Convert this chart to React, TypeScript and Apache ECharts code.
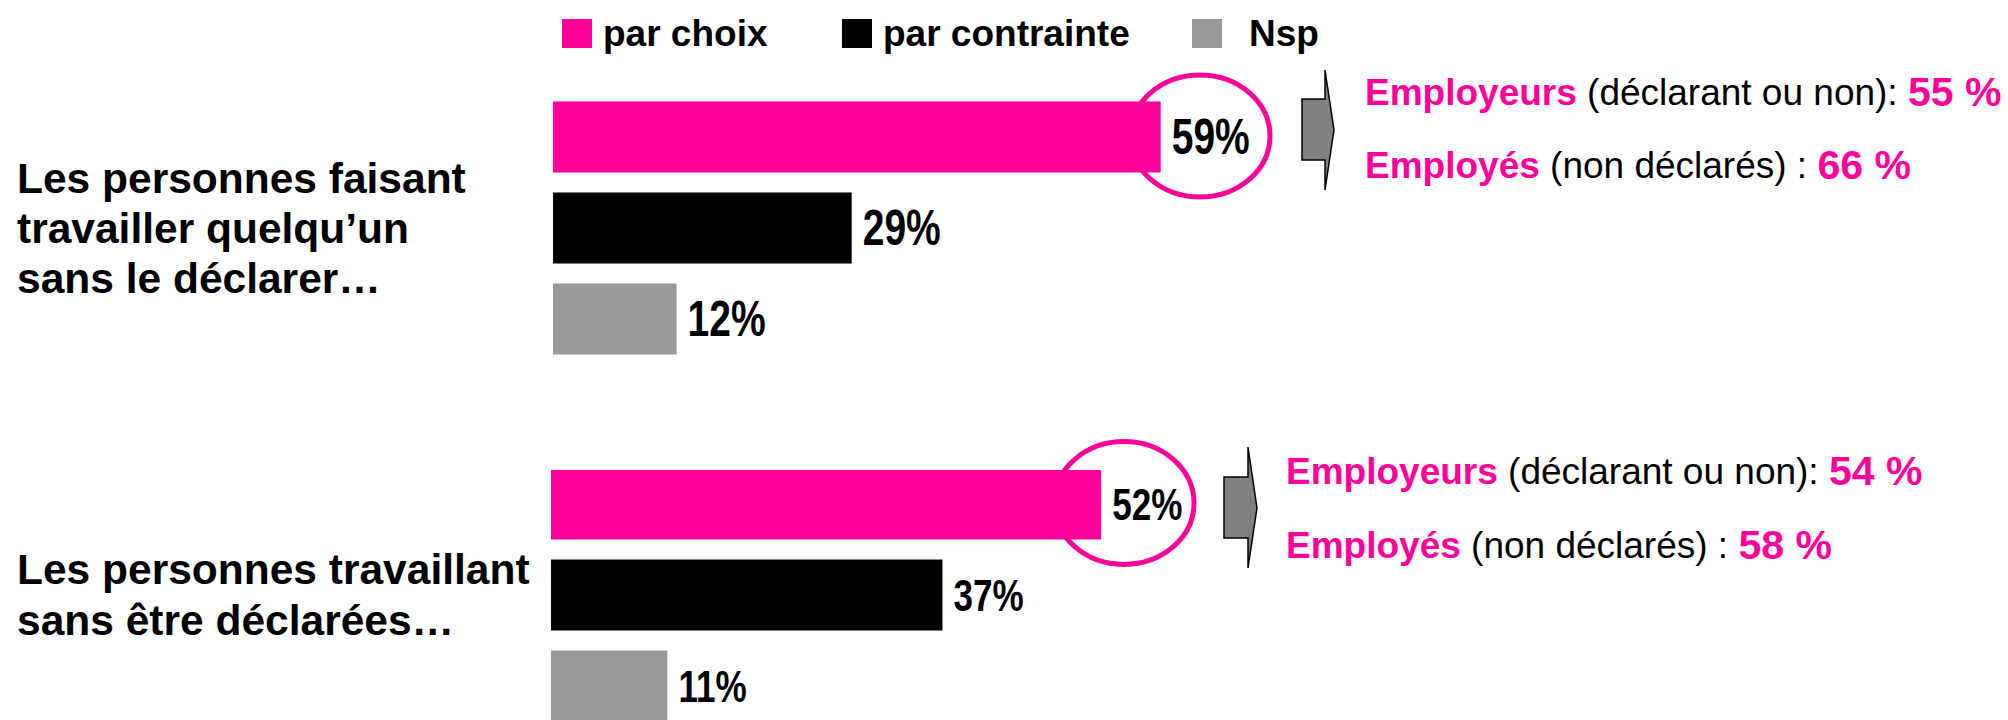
import React, { useEffect, useRef } from "react";
import * as echarts from "echarts";

const seriesNames = ["par choix", "par contrainte", "Nsp"];
const seriesColors = ["#FF0099", "#000000", "#999999"];
const categoriesTop = ["Les personnes faisant\ntravailler quelqu’un\nsans le déclarer…"];
const categoriesBottom = ["Les personnes travaillant\nsans être déclarées…"];
const valuesTop = [59, 29, 12];
const valuesBottom = [52, 37, 11];
const employeursPct = [55, 54];
const employesPct = [66, 58];

const SANS = "'Liberation Sans', Arial, Helvetica, sans-serif";
const PINK = "#FF0099";
const BAR_W = 71;
const BAR_GAP = 20;

export default function App() {
  const ref = useRef<HTMLDivElement>(null);
  useEffect(() => {
    if (!ref.current) return;
    document.body.style.margin = "0";
    const chart = echarts.init(ref.current, null, { renderer: "svg" });

    const groups = [
      { cats: categoriesTop, vals: valuesTop, labelSize: 50, scaleX: 0.78, padBottom: 49, lh: 50, margin: 536 },
      { cats: categoriesBottom, vals: valuesBottom, labelSize: 45, scaleX: 0.78, padBottom: 20, lh: 51, margin: 534 },
    ];

    const series: any[] = [];
    groups.forEach((g, gi) => {
      seriesNames.forEach((name, i) => {
        series.push({
          type: "bar",
          name,
          xAxisIndex: gi,
          yAxisIndex: gi,
          data: [g.vals[i]],
          barWidth: BAR_W,
          barGap: ((BAR_GAP / BAR_W) * 100).toFixed(1) + "%",
          itemStyle: { color: seriesColors[i] },
          z: 3,
        });
      });
      // value labels, drawn condensed (narrow bold) next to each bar end
      series.push({
        type: "custom",
        name: "labels" + gi,
        xAxisIndex: gi,
        yAxisIndex: gi,
        data: g.vals.map((v) => [v, 0]),
        z: 5,
        silent: true,
        renderItem: (params: any, api: any) => {
          const v = api.value(0);
          const p = api.coord([v, 0]);
          const idx = params.dataIndex;
          const y = p[1] + (idx - 1) * (BAR_W + BAR_GAP);
          return {
            type: "text",
            x: p[0] + 11,
            y,
            scaleX: g.scaleX,
            style: {
              text: v + "%",
              fontFamily: SANS,
              fontWeight: "bold",
              fontSize: g.labelSize,
              fill: "#000",
              verticalAlign: "middle",
              align: "left",
            },
          };
        },
      });
    });

    const legendLefts = [562, 842, 1192];
    const legendPads = [6, 6, 22];
    const legend = seriesNames.map((name, i) => ({
      data: [name],
      left: legendLefts[i],
      top: 15,
      padding: 0,
      icon: "rect",
      itemWidth: 30,
      itemHeight: 29,
      selectedMode: false,
      textStyle: {
        fontFamily: SANS,
        fontWeight: "bold",
        fontSize: 37,
        color: "#000",
        padding: [i === 2 ? 6 : 0, 0, 0, legendPads[i]],
      },
    }));

    const rich = {
      b: { fontFamily: SANS, fontWeight: "bold", fontSize: 37, fill: PINK },
      n: { fontFamily: SANS, fontSize: 37, fill: "#000" },
      p: { fontFamily: SANS, fontWeight: "bold", fontSize: 41, fill: PINK },
    };

    const annot = (x: number, y1: number, y2: number, k: number) => [
      {
        type: "text",
        x,
        y: y1,
        z: 10,
        style: {
          text: `{b|Employeurs}{n| (déclarant ou non): }{p|${employeursPct[k]} %}`,
          verticalAlign: "middle",
          rich,
        },
      },
      {
        type: "text",
        x,
        y: y2,
        z: 10,
        style: {
          text: `{b|Employés}{n| (non déclarés) : }{p|${employesPct[k]} %}`,
          verticalAlign: "middle",
          rich,
        },
      },
    ];

    const arrow = (x0: number, x1: number, x2: number, yTop: number, yBodyTop: number, yBodyBot: number, yBot: number, yMid: number) => ({
      type: "polygon",
      z: 10,
      shape: {
        points: [
          [x0, yBodyTop],
          [x1, yBodyTop],
          [x1, yTop],
          [x2, yMid],
          [x1, yBot],
          [x1, yBodyBot],
          [x0, yBodyBot],
        ],
      },
      style: { fill: "#808080", stroke: "#000", lineWidth: 1.5 },
    });

    chart.setOption({
      animation: false,
      backgroundColor: "#fff",
      legend,
      grid: [
        { left: 553, top: 101, width: 1030, height: 254 },
        { left: 551, top: 470, width: 1058, height: 252 },
      ],
      xAxis: [0, 1].map((i) => ({
        type: "value",
        gridIndex: i,
        min: 0,
        max: 100,
        show: false,
      })),
      yAxis: groups.map((g, i) => ({
        type: "category",
        gridIndex: i,
        data: g.cats,
        axisLine: { show: false },
        axisTick: { show: false },
        splitLine: { show: false },
        axisLabel: {
          align: "left",
          margin: g.margin,
          fontFamily: SANS,
          fontWeight: "bold",
          fontSize: 42.5,
          lineHeight: g.lh,
          color: "#000",
          padding: [0, 0, g.padBottom, 0],
        },
      })),
      series,
      graphic: [
        {
          type: "ellipse",
          z: 1,
          shape: { cx: 1200, cy: 136, rx: 70, ry: 61 },
          style: { fill: "none", stroke: PINK, lineWidth: 5 },
        },
        {
          type: "ellipse",
          z: 1,
          shape: { cx: 1124, cy: 503, rx: 70, ry: 61.5 },
          style: { fill: "none", stroke: PINK, lineWidth: 5 },
        },
        arrow(1302, 1325, 1334, 70, 99, 160, 190, 130),
        arrow(1224, 1248, 1257, 447, 477, 538, 568, 508),
        ...annot(1365, 92, 165, 0),
        ...annot(1286, 471, 545, 1),
      ],
    });
    return () => chart.dispose();
  }, []);
  return (
    <div
      ref={ref}
      style={{ position: "absolute", left: 0, top: 0, width: 2008, height: 720 }}
    />
  );
}
